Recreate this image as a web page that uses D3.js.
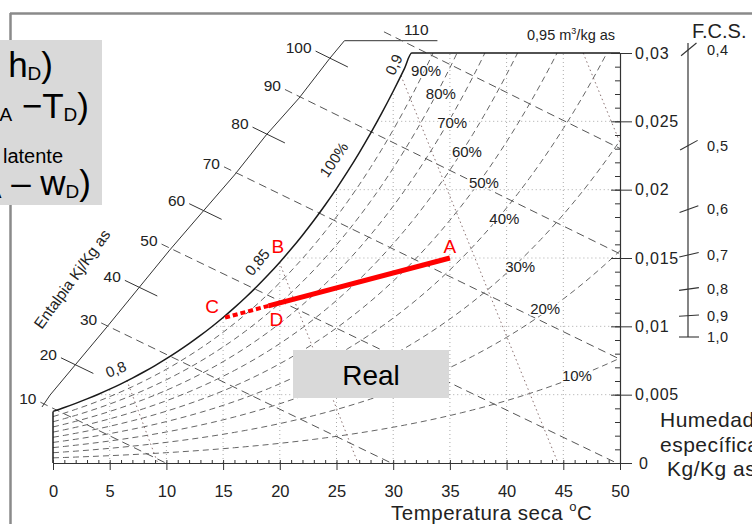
<!DOCTYPE html>
<html><head><meta charset="utf-8">
<script src="https://cdn.jsdelivr.net/npm/d3@7"></script>
<style>
html,body{margin:0;padding:0;background:#fff;overflow:hidden;}
svg{display:block;font-family:"Liberation Sans",Arial,Helvetica,sans-serif;}
</style></head><body>
<svg id="chart" width="752" height="524"></svg>
<script>
// ---------------- DATA ----------------
const satTemps = [0,1,2,3,4,5,6,7,8,9,10,11,12,13,14,15,16,17,18,19,20,21,22,23,24,25,26,27,28,29,30,31,32,33,34,35,36,37,38,39,40,41,42,43,44,45,46,47,48,49,50];
const satPressure = [0.6113,0.6571,0.7060,0.7581,0.8135,0.8725,0.9353,1.0020,1.0729,1.1481,1.2281,1.3129,1.4027,1.4979,1.5988,1.7056,1.8185,1.9380,2.0644,2.1978,2.3388,2.4877,2.6447,2.8104,2.9850,3.1690,3.3629,3.5670,3.7818,4.0078,4.2455,4.4953,4.7578,5.0335,5.3229,5.6267,5.9453,6.2795,6.6298,6.9969,7.3814,7.7840,8.2054,8.6463,9.1075,9.5898,10.094,10.620,11.171,11.745,12.344];
const rhLevels = [0.1,0.2,0.3,0.4,0.5,0.6,0.7,0.8,0.9];
const rhLabels = ["10%","20%","30%","40%","50%","60%","70%","80%","90%"];
const rhLabelTemps = [46.2,43.4,41.2,39.8,38.0,36.5,35.2,34.2,32.9];
const enthalpyValues = [10,20,30,40,50,60,70,80,90,100,110];
const enthalpyLabels = ["10","20","30","40","50","60","70","80","90","100","110"];
const enthalpyScaleT = [-0.97,-0.26,4.75,10.29,13.1,16.0,18.8,21.7,24.4,25.7,33.9];
const enthalpyScaleW = [0.0041,0.00497,0.00995,0.01558,0.01829,0.02107,0.0240,0.0267,0.0296,0.0309,0.0309];
const volumeValues = [0.80,0.85,0.90,0.95];
const volumeLabels = ["0,8","0,85","0,9"];
const tempTicks = [0,5,10,15,20,25,30,35,40,45,50];
const tempGrid = [5,10,15,20,25,30,35,40,45];
const humidityTicks = [0,0.005,0.01,0.015,0.02,0.025,0.03];
const humidityTickLabels = ["0","0,005","0,01","0,015","0,02","0,025","0,03"];
const humidityGrid = [0.005,0.01,0.015,0.02,0.025];
const shfTicks = [0.4,0.5,0.6,0.7,0.8,0.9,1.0];
const shfTickLabels = ["0,4","0,5","0,6","0,7","0,8","0,9","1,0"];
const processPoints = [
  {id:"A", T:35, w:0.015},
  {id:"B", T:20, w:0.01475},
  {id:"D", T:19, w:0.0115},
  {id:"C", T:15, w:0.0106}
];

// ---------------- SETUP ----------------
const svg = d3.select("#chart");
const x = d3.scaleLinear().domain([0,50]).range([53,620]);
const y = d3.scaleLinear().domain([0,0.03]).range([463,53]);
const P = 101.325;
const pOfT = d3.scaleLinear().domain(satTemps).range(satPressure);
const tOfP = d3.scaleLinear().domain(satPressure).range(satTemps);
const wRh = (phi,T)=>{const p=phi*pOfT(T);return 0.622*p/(P-p);};
const tRhOfW = (phi,w)=>tOfP(w*P/((0.622+w)*phi));
const wOfH = (h,T)=>(h-1.006*T)/(2501+1.86*T);
const hOf = (T,w)=>1.006*T+w*(2501+1.86*T);
const tOfV = (v,w)=>v*P/(0.287055*(1+1.6078*w))-273.15;
const WMAX = 0.03;
const lineGen = d3.line().x(d=>x(d[0])).y(d=>y(d[1])).curve(d3.curveMonotoneX);
const straight = d3.line().x(d=>d[0]).y(d=>d[1]);
const ink = "#222";

// frame
svg.append("line").attr("x1",10).attr("x2",752).attr("y1",13.5).attr("y2",13.5).attr("stroke","#8a8a8a").attr("stroke-width",2.5);
svg.append("line").attr("x1",10.5).attr("x2",10.5).attr("y1",13).attr("y2",524).attr("stroke","#8a8a8a").attr("stroke-width",2.5);

// RH curve builder
function rhCurve(phi){
  const pts=[];
  for(let i=0;i<satTemps.length;i++){
    const T=satTemps[i], w=wRh(phi,T);
    if(w<=WMAX){pts.push([T,w]);}
    else{pts.push([tRhOfW(phi,WMAX),WMAX]);break;}
  }
  return pts;
}
const satCurve = rhCurve(1);

// dotted grid
const gGrid = svg.append("g").attr("stroke","#a0a0a0").attr("stroke-width",0.9).attr("stroke-dasharray","1,3").attr("fill","none");
tempGrid.forEach(T=>{
  const wt=Math.min(wRh(1,T),WMAX);
  gGrid.append("line").attr("x1",x(T)).attr("x2",x(T)).attr("y1",y(0)).attr("y2",y(wt));
});
humidityGrid.forEach(w=>{
  gGrid.append("line").attr("x1",x(tRhOfW(1,w))).attr("x2",x(50)).attr("y1",y(w)).attr("y2",y(w));
});

// RH curves
const gRh = svg.append("g").attr("fill","none").attr("stroke","#666").attr("stroke-width",1).attr("stroke-dasharray","6,4");
rhLevels.forEach(phi=>{ gRh.append("path").attr("d",lineGen(rhCurve(phi))); });

// specific volume lines
const gVol = svg.append("g").attr("fill","none").attr("stroke","#8a7070").attr("stroke-width",1).attr("stroke-dasharray","1.5,3");
const volStarts=[];
volumeValues.forEach(v=>{
  let wc=null;
  for(let w=0;w<=WMAX;w+=0.00005){ if(tOfV(v,w)-tRhOfW(1,Math.max(w,1e-6))<=0){wc=w;break;} }
  if(wc===null) wc=WMAX;
  const start=[tOfV(v,wc),wc];
  let end;
  if(tOfV(v,0)<=50) end=[tOfV(v,0),0];
  else end=[50,(v*P/(0.287055*323.15)-1)/1.6078];
  volStarts.push(start);
  gVol.append("line").attr("x1",x(start[0])).attr("y1",y(start[1])).attr("x2",x(end[0])).attr("y2",y(end[1]));
});

// enthalpy scale
const scaleH = enthalpyScaleT.map((T,i)=>hOf(T,enthalpyScaleW[i]));
function scaleCross(h){
  for(let i=0;i<scaleH.length-1;i++){
    if(h>=scaleH[i]&&h<=scaleH[i+1]){
      const t=(h-scaleH[i])/(scaleH[i+1]-scaleH[i]);
      return [enthalpyScaleT[i]+t*(enthalpyScaleT[i+1]-enthalpyScaleT[i]), enthalpyScaleW[i]+t*(enthalpyScaleW[i+1]-enthalpyScaleW[i])];
    }
  }
  return null;
}
svg.append("path").attr("d",straight(enthalpyScaleT.map((T,i)=>[x(T),y(enthalpyScaleW[i])])))
  .attr("fill","none").attr("stroke","#333").attr("stroke-width",1);

const gEnt = svg.append("g");
enthalpyValues.forEach((h,i)=>{
  const c=scaleCross(h); if(!c) return;
  const pc=[x(c[0]),y(c[1])];
  let end = wOfH(h,50)>0 ? [50,wOfH(h,50)] : [h/1.006,0];
  const pe=[x(end[0]),y(end[1])];
  const len=Math.hypot(pe[0]-pc[0],pe[1]-pc[1]);
  const u=[(pe[0]-pc[0])/len,(pe[1]-pc[1])/len];
  let startPt, lblX, lblY, anchor="end";
  if(i%2===0){
    const off=4+0.16*(h-10);
    startPt=[pc[0]-off*u[0],pc[1]-off*u[1]];
    gEnt.append("line").attr("x1",startPt[0]).attr("y1",startPt[1]).attr("x2",pe[0]).attr("y2",pe[1])
      .attr("stroke","#555").attr("stroke-width",1).attr("stroke-dasharray","8,5");
  } else {
    startPt=[pc[0]-16*u[0],pc[1]-16*u[1]];
    gEnt.append("line").attr("x1",startPt[0]).attr("y1",startPt[1]).attr("x2",pc[0]+20*u[0]).attr("y2",pc[1]+20*u[1])
      .attr("stroke","#333").attr("stroke-width",1);
  }
  lblX=startPt[0]-4; lblY=startPt[1]+2;
  if(h===110){ lblX=pc[0]+2; lblY=pc[1]-6; anchor="start"; }
  gEnt.append("text").attr("x",lblX).attr("y",lblY).attr("text-anchor",anchor)
    .attr("font-size",15.5).attr("fill",ink).text(enthalpyLabels[i]);
});

// saturation curve + boundaries
svg.append("path").attr("d",lineGen(satCurve.concat([[50,WMAX]]))).attr("fill","none").attr("stroke","#1a1a1a").attr("stroke-width",1.5);
svg.append("line").attr("x1",x(0)).attr("x2",x(0)).attr("y1",y(0)).attr("y2",y(wRh(1,0))).attr("stroke","#1a1a1a").attr("stroke-width",1.5);

// axes
const gR = svg.append("g").attr("transform",`translate(${x(50)},0)`)
  .call(d3.axisRight(y).tickValues(humidityTicks).tickSize(12).tickSizeOuter(0).tickPadding(3).tickFormat((d,i)=>humidityTickLabels[i]));
const gRm = svg.append("g").attr("transform",`translate(${x(50)},0)`)
  .call(d3.axisLeft(y).tickValues(y.ticks(30)).tickSize(5).tickSizeOuter(0).tickFormat(""));
const gRM = svg.append("g").attr("transform",`translate(${x(50)},0)`)
  .call(d3.axisLeft(y).tickValues(humidityTicks).tickSize(9).tickSizeOuter(0).tickFormat(""));
const gB = svg.append("g").attr("transform",`translate(0,${y(0)})`)
  .call(d3.axisBottom(x).tickValues(tempTicks).tickSize(7).tickSizeOuter(0).tickPadding(15).tickFormat((d,i)=>String(tempTicks[i])));
const gBm = svg.append("g").attr("transform",`translate(0,${y(0)})`)
  .call(d3.axisTop(x).tickValues(x.ticks(50)).tickSize(3).tickSizeOuter(0).tickFormat(""));
[gR,gRm,gRM,gB,gBm].forEach(g=>{g.selectAll("path.domain").attr("stroke","#333").attr("stroke-width",1.2);g.selectAll(".tick line").attr("stroke","#333");});
[gRm,gRM,gBm].forEach(g=>g.select("path.domain").remove());
gR.selectAll("text").attr("font-size",16).attr("letter-spacing","0.8px").attr("fill",ink).attr("font-family","Liberation Sans, Arial, sans-serif");
gR.selectAll(".tick").filter(d=>d===0).select("text").attr("x",19);
gB.selectAll("text").attr("font-size",16.5).attr("fill",ink).attr("font-family","Liberation Sans, Arial, sans-serif");

// RH labels
const rhDy=[-1,-3,7,8,7,8,8,8,3];
rhLevels.forEach((phi,i)=>{
  const T=rhLabelTemps[i];
  svg.append("text").attr("x",x(T)).attr("y",y(wRh(phi,T))+rhDy[i]).attr("dy","0.35em")
    .attr("text-anchor","middle").attr("font-size",15).attr("fill",ink)
    .attr("stroke","#fff").attr("stroke-width",3).attr("paint-order","stroke").text(rhLabels[i]);
});
// 100% label
{const T=tRhOfW(1,0.0222);
 svg.append("text").attr("transform",`translate(${x(T)-21},${y(0.0222)}) rotate(-56)`).attr("text-anchor","middle").attr("dy","0.35em")
  .attr("font-size",15).attr("fill",ink).text("100%");}

// volume labels
const volOff=[[-11,-11,-22],[-22,0,-50],[-7,-11,-65]];
volumeLabels.forEach((t,i)=>{
  const s=volStarts[i];
  svg.append("text").attr("transform",`translate(${x(s[0])+volOff[i][0]},${y(s[1])+volOff[i][1]}) rotate(${volOff[i][2]})`)
    .attr("text-anchor","middle").attr("dy","0.35em").attr("font-size",15).attr("fill",ink).text(t);
});
{const t=svg.append("text").attr("x",527).attr("y",40).attr("font-size",14.5).attr("fill",ink);
 t.append("tspan").text("0,95 m");
 t.append("tspan").attr("font-size",9).attr("dy",-6).text("3");
 t.append("tspan").attr("dy",6).text("/kg as");}

// Enthalpy title
svg.append("text").attr("transform","translate(72,279) rotate(-54)").attr("text-anchor","middle").attr("dy","0.35em")
  .attr("font-size",15.5).attr("fill",ink).text("Entalpia Kj/Kg as");

// F.C.S. scale
const shf = d3.scaleLinear().domain([0,1.5]).range([337,50]);
const yS = s=>shf((1-s)/s);
svg.append("line").attr("x1",688).attr("x2",688).attr("y1",43).attr("y2",337).attr("stroke","#333").attr("stroke-width",1.2);
shfTicks.forEach((s,i)=>{
  const a=Math.atan(0.55*(1-s)/s), c=Math.cos(a), sn=Math.sin(a), yy=yS(s);
  svg.append("line").attr("x1",688-9*c).attr("y1",yy+9*sn).attr("x2",688+11*c).attr("y2",yy-11*sn).attr("stroke","#333").attr("stroke-width",1.1);
  svg.append("text").attr("x",707).attr("y",yy+5).attr("font-size",14.5).attr("letter-spacing","0.5px").attr("fill",ink).text(shfTickLabels[i]);
});
svg.append("text").attr("x",692).attr("y",38).attr("font-size",20).attr("fill",ink).text("F.C.S.");

// axis titles (cut at the right edge, as in the reference)
[["Humedad",660],["específica",660],["Kg/Kg as",667]].forEach((t,i)=>{
  svg.append("text").attr("x",t[1]).attr("y",427+i*24.5).attr("font-size",21).attr("letter-spacing","0.5px").attr("fill",ink).text(t[0]);
});
{const t=svg.append("text").attr("x",391).attr("y",520).attr("font-size",20.5).attr("letter-spacing","0.5px").attr("fill",ink);
 t.append("tspan").text("Temperatura seca ");
 t.append("tspan").attr("font-size",13).attr("dy",-9).text("o");
 t.append("tspan").attr("dy",9).text("C");}

// "Real" box
svg.append("rect").attr("x",293).attr("y",350).attr("width",156).attr("height",48).attr("fill","#d9d9d9");
svg.append("text").attr("x",371).attr("y",385).attr("text-anchor","middle").attr("font-size",28).attr("fill","#000").text("Real");

// process line
const pt=id=>processPoints.find(p=>p.id===id);
const A=pt("A"),D=pt("D"),C=pt("C");
svg.append("line").attr("x1",x(A.T)).attr("y1",y(A.w)).attr("x2",x(D.T)).attr("y2",y(D.w)).attr("stroke","#ff0000").attr("stroke-width",5);
svg.append("line").attr("x1",x(D.T)).attr("y1",y(D.w)).attr("x2",x(C.T)).attr("y2",y(C.w)).attr("stroke","#ff0000").attr("stroke-width",4).attr("stroke-dasharray","5,3");
const lblOff={A:[0,-5],B:[-2,-8],D:[8,20],C:[-11,-5]};
processPoints.forEach(p=>{
  svg.append("text").attr("x",x(p.T)+lblOff[p.id][0]).attr("y",y(p.w)+lblOff[p.id][1]).attr("text-anchor","middle")
    .attr("font-size",19).attr("fill","#ff0000").text(p.id);
});

// top-left gray box with formula fragments
svg.append("rect").attr("x",0).attr("y",40).attr("width",102).attr("height",165).attr("fill","#d9d9d9");
function formula(xEnd,yb,parts){
  const t=svg.append("text").attr("x",xEnd).attr("y",yb).attr("text-anchor","end").attr("fill","#000");
  let shift=0;
  parts.forEach(p=>{
    const s=t.append("tspan").attr("font-size",p.sub?19:35).text(p.t);
    const target=p.sub?3:0; s.attr("dy",target-shift); shift=target;
  });
}
formula(53,77,[{t:"– h"},{t:"D",sub:true},{t:")"}]);
formula(89,118,[{t:"(T"},{t:"A",sub:true},{t:" −T"},{t:"D",sub:true},{t:")"}]);
svg.append("text").attr("x",3).attr("y",163).attr("font-size",20).attr("fill","#000").text("latente");
formula(91,195,[{t:"(w"},{t:"A",sub:true},{t:" – w"},{t:"D",sub:true},{t:")"}]);
</script>
</body></html>
